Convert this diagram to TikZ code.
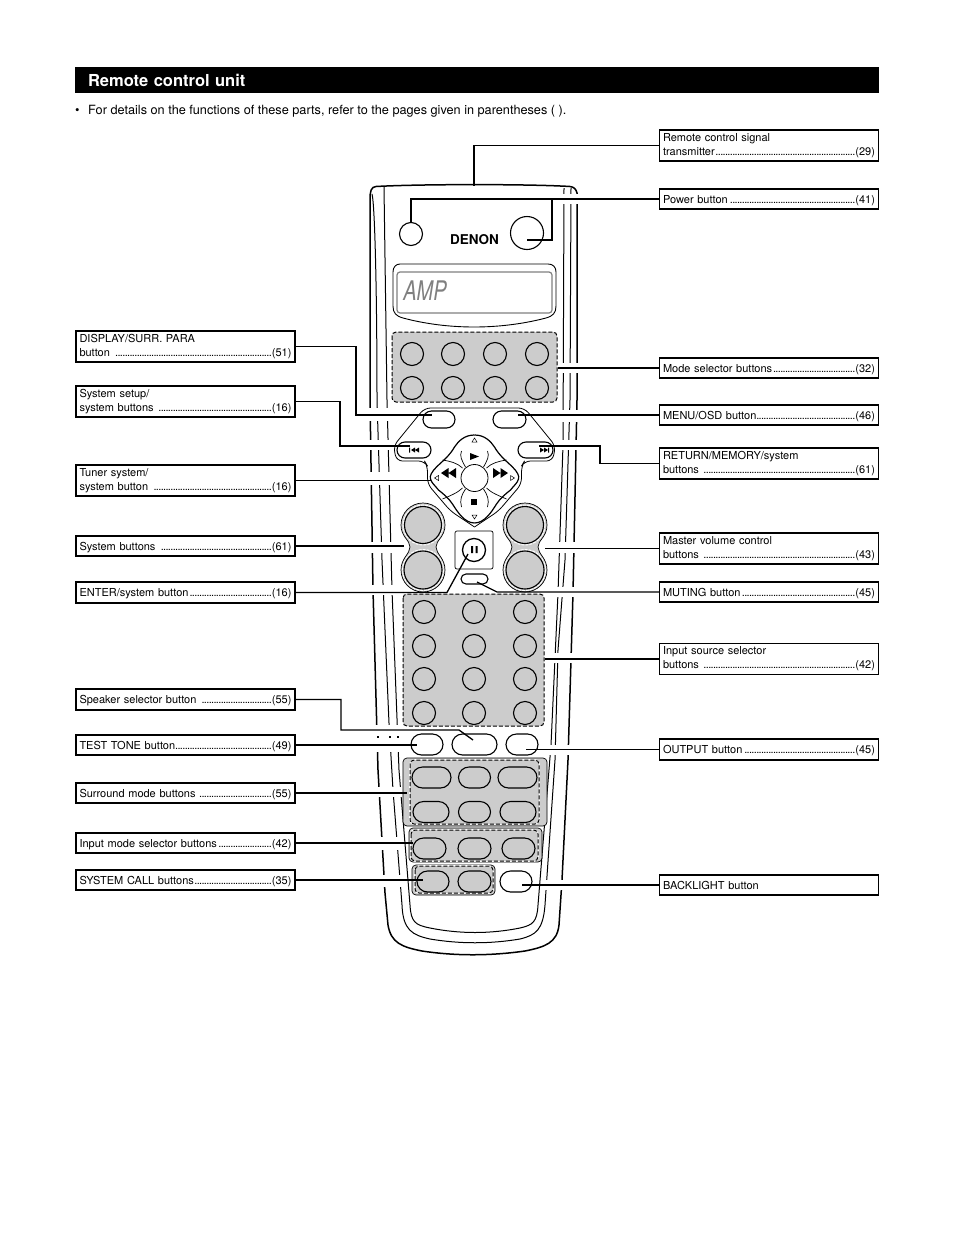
\documentclass[tikz,border=0pt]{standalone}
\usepackage{fontspec}
\setmainfont{TeX Gyre Heros}
\usetikzlibrary{shapes.misc}
\definecolor{panelgray}{gray}{0.8}
\newcommand{\lead}[2]{#1\leaders\hbox to 2.4pt{\hss.\hss}\hskip 0pt plus 1fill(#2)}
\tikzset{
  labbox/.style={draw,line width=1.8,outer sep=0,inner xsep=3.5,inner ysep=0,text width=212,align=left,
    font=\fontsize{11}{14}\selectfont},
  lab1/.style={labbox,minimum height=20.5,text height=8,text depth=0},
  lab2/.style={labbox,minimum height=31},
  link/.style={line width=1.3},
  rail/.style={line width=1},
  panel/.style={fill=panelgray,draw=black,line width=1,dash pattern=on 4pt off 2pt,rounded corners=4,
    preaction={draw=white,solid,line width=1.6}},
  frame/.style={fill=panelgray,draw=black,line width=.7,rounded corners=4},
  btn/.style={circle,draw,line width=1.1,inner sep=0,outer sep=0,minimum size=23},
  pill/.style={rounded rectangle,draw,line width=1.1,inner sep=0,outer sep=0,minimum height=21,minimum width=32},
}
\begin{document}
\begin{tikzpicture}[x=1pt,y=-1pt]
  \useasboundingbox (0,0) rectangle (954,1237);
  \fill[white] (0,0) rectangle (954,1237);

  % heading and note
  \node[fill=black,text=white,font=\bfseries\fontsize{16.5}{18}\selectfont,minimum height=26,inner xsep=13,
    inner ysep=0,text width=778,align=left] (headbar) at (477,80) {Remote control unit};
  \node[anchor=west,inner sep=0,font=\fontsize{12.7}{14}\selectfont] (notetext) at (75,111)
    {\makebox[13pt][l]{•}For details on the functions of these parts, refer to the pages given in parentheses ( ).};

  % body of the remote, outer rails
  \draw[rail,line width=1.5] (370,200) .. controls (370,191) and (371,187) .. (376,186.5)
    .. controls (420,184) and (530,184) .. (570,186.5) .. controls (574,187) and (576,189) .. (577,193)
    -- (577,400) -- (573,593) -- (568,760) -- (562,880) -- (559,925)
    .. controls (557,943) and (545,947) .. (525,951) .. controls (490,956) and (455,956) .. (422,951)
    .. controls (402,947) and (391,943) .. (388,925) -- (385,893) -- (378,770) -- (373,590) -- (370,400) -- cycle;
  \draw[rail] (372,194) .. controls (375,205) and (377,300) .. (377,400) -- (382,560) -- (389,723) -- (393,790) -- (402,905)
    .. controls (403,930) and (412,935) .. (430,939) .. controls (460,944) and (490,944) .. (520,939)
    .. controls (536,935) and (543,930) .. (545,905) -- (555,760) -- (558,650) -- (565,560) -- (570,400) -- (571,188);
  \draw[rail] (384,187) -- (387,400) -- (392,590) -- (399,770) -- (410,905)
    .. controls (411,922) and (415,925) .. (430,928) .. controls (460,934) and (490,934) .. (520,928)
    .. controls (533,925) and (537,922) .. (538,905) -- (551,745) -- (558,593) -- (563,445) -- (564,188);

  % gaps in the rails where the lines cross
  \foreach \ya/\yb in {408/421,440/450,472/485,542/553,585/595,725/752,787/797,837/850,875/887}
    \fill[white] (362,\ya) rectangle (403,\yb);
  \foreach \ya/\yb in {194/204,363/373,410/422,440/450,542/553,587/597,653/663,745/755,880/890}
    \fill[white] (545,\ya) rectangle (585,\yb);
  \foreach \px in {378,390,398}
    \fill (\px-1,736) rectangle (\px+1,738);

  % top part
  \node[btn] (txbtn) at (411,234) {};
  \node[btn,minimum size=33] (powerbtn) at (527,233) {};
  \node[font=\bfseries\fontsize{13.5}{14}\selectfont,inner sep=0] (brand) at (474.5,239.5) {DENON};
  \draw[line width=.9] (400,264) -- (548,264) .. controls (553,264) and (556,267) .. (556,272) -- (556,306)
    .. controls (556,313) and (553,316) .. (546,318) .. controls (500,330) and (448,330) .. (403,318)
    .. controls (396,316) and (393,313) .. (393,306) -- (393,272) .. controls (393,267) and (396,264) .. (400,264) -- cycle;
  \draw[black!50,line width=1.2,rounded corners=3] (397,272) rectangle (552,313);
  \node[text=black!50,font=\itshape\fontsize{27}{28}\selectfont,xscale=.74,inner sep=0] (ampdisp) at (425,291) {AMP};

  % mode selector panel
  \draw[panel] (392,332) rectangle (557,402);
  \foreach \cx [count=\ci] in {412,453,495,537}
    \foreach \cy [count=\cj] in {354,388}
      \node[btn] (mode\ci\cj) at (\cx,\cy) {};

  % cursor area, one half and its mirror image
  \foreach \sx in {1,-1} {
    \begin{scope}[shift={(474.5,0)},xscale=\sx]
      \draw[line width=.8,rounded corners=6] (0,408) -- (50,408) -- (81,446) -- (78,461) -- (50,461) -- (47,466)
        -- (47,484) -- (24,511) -- (0,527);
      \draw[line width=1.2] (0,435) .. controls (10,435) and (16,441) .. (20,447) .. controls (25,456) and (33,462) .. (38,467)
        .. controls (43,472) and (45,476) .. (44,479) .. controls (43,483) and (39,486) .. (36,490)
        .. controls (31,494) and (26,498) .. (22,504) .. controls (17,512) and (10,523) .. (0,523);
      \draw[line width=.7] (13,451) .. controls (15,456) and (13,460) .. (9,467)
        (32,460) .. controls (25,461) and (17,463) .. (12,468)
        (32,499) .. controls (25,496) and (17,493) .. (12,488)
        (13,507) .. controls (15,500) and (13,495) .. (9,489);
      \fill (18.5,468) -- (26,473) -- (18.5,478) -- cycle (26,468) -- (33.5,473) -- (26,478) -- cycle;
      \draw[line width=.5] (36,475.5) -- (40,478) -- (36,480.5) -- cycle;
    \end{scope}
  }
  \node[circle,draw,fill=white,line width=.8,inner sep=0,minimum size=27] (enterbtn) at (474.5,478) {};
  \fill (470,453) -- (479,456.5) -- (470,460) -- cycle;
  \fill (471,499) rectangle (477,505);
  \draw[line width=.5] (472,442) -- (474.5,438) -- (477,442) -- cycle (472,515) -- (474.5,519) -- (477,515) -- cycle;
  \node[pill,fill=white,minimum width=32,minimum height=17] (menubtn) at (439,419.5) {};
  \node[pill,fill=white,minimum width=33,minimum height=17] (returnbtn) at (509.5,419.5) {};
  \node[pill,fill=white,minimum width=34,minimum height=16] (prevbtn) at (414,450) {};
  \node[pill,fill=white,minimum width=35,minimum height=16] (nextbtn) at (535.5,450) {};
  \fill (409,447.5) rectangle (410,452.5) (415,447.5) -- (411,450) -- (415,452.5) -- cycle
    (419,447.5) -- (415,450) -- (419,452.5) -- cycle;
  \fill (540,447.5) -- (544,450) -- (540,452.5) -- cycle (544,447.5) -- (548,450) -- (544,452.5) -- cycle
    (548,447.5) rectangle (549,452.5);

  % volume and system button pairs
  \foreach \cx/\nm in {423/sys,525/vol} {
    \begin{scope}[shift={(\cx,0)}]
      \draw[frame,rounded corners=0] (-22,525) arc (180:360:22)
        .. controls (22,537) and (13,540) .. (13,547) .. controls (13,554) and (22,558) .. (22,570)
        arc (0:180:22) .. controls (-22,558) and (-13,554) .. (-13,547) .. controls (-13,540) and (-22,537) .. cycle;
      \draw[white,line width=1,dash pattern=on 3pt off 1pt] (0,525) circle (20) (0,570) circle (20.5);
      \node[btn,fill=panelgray,minimum size=37] (\nm up) at (0,525) {};
      \node[btn,fill=panelgray,minimum size=38] (\nm down) at (0,570) {};
    \end{scope}
  }

  % pause and muting
  \draw[line width=.7,rounded corners=2] (455,531) rectangle (493,569);
  \node[btn,line width=1.3] (pausebtn) at (474,550) {};
  \fill (471,546) rectangle (473,553) (475.5,546) rectangle (477.5,553);
  \node[pill,minimum width=27,minimum height=10] (mutebtn) at (474.5,579) {};

  % input source panel
  \draw[panel] (403,594) rectangle (544,726);
  \foreach \cx [count=\ci] in {424,474,525}
    \foreach \cy [count=\cj] in {612,646,679,713}
      \node[btn] (input\ci\cj) at (\cx,\cy) {};

  % row below the input panel
  \node[pill] (testbtn) at (427,744.5) {};
  \node[pill,minimum width=45] (speakerbtn) at (474.5,744.5) {};
  \node[pill] (outputbtn) at (522,744.5) {};

  % surround, input mode and system call panels
  \draw[frame] (403,758) rectangle (547,826);
  \draw[panel] (410,760) rectangle (539,824);
  \draw[frame] (409,828) rectangle (542,862);
  \draw[panel] (411,830) rectangle (538,861);
  \draw[frame] (412,865) rectangle (495,895);
  \draw[panel] (415,866) rectangle (493,893);
  \node[pill,fill=panelgray,minimum width=39] (surr1) at (431.5,777.5) {};
  \node[pill,fill=panelgray] (surr2) at (474.5,777.5) {};
  \node[pill,fill=panelgray,minimum width=39] (surr3) at (517.5,777.5) {};
  \node[pill,fill=panelgray,minimum width=36] (surr4) at (431,812) {};
  \node[pill,fill=panelgray] (surr5) at (474.5,812) {};
  \node[pill,fill=panelgray,minimum width=36] (surr6) at (518,812) {};
  \node[pill,fill=panelgray,minimum width=33] (imode1) at (429.5,848.5) {};
  \node[pill,fill=panelgray,minimum width=33] (imode2) at (474.5,848.5) {};
  \node[pill,fill=panelgray,minimum width=33] (imode3) at (518.5,848.5) {};
  \node[pill,fill=panelgray] (call1) at (433,881.5) {};
  \node[pill,fill=panelgray,minimum width=33] (call2) at (474.5,881.5) {};
  \node[pill,fill=white] (lightbtn) at (516,881.5) {};

  % labels on the left
  \node[lab2] (bdisplay) at (185.5,346.5) {DISPLAY/SURR. PARA\\\lead{button }{51}};
  \node[lab2] (bsetup) at (185.5,401.5) {System setup/\\\lead{system buttons }{16}};
  \node[lab2] (btuner) at (185.5,480.5) {Tuner system/\\\lead{system button }{16}};
  \node[lab1] (bsystem) at (185.5,546) {\lead{System buttons }{61}};
  \node[lab1] (benter) at (185.5,592.5) {\lead{ENTER/system button}{16}};
  \node[lab1] (bspeaker) at (185.5,699.5) {\lead{Speaker selector button }{55}};
  \node[lab1] (btest) at (185.5,745) {\lead{TEST TONE button}{49}};
  \node[lab1] (bsurr) at (185.5,793) {\lead{Surround mode buttons }{55}};
  \node[lab1] (bimode) at (185.5,843) {\lead{Input mode selector buttons}{42}};
  \node[lab1] (bcall) at (185.5,880) {\lead{SYSTEM CALL buttons}{35}};

  % labels on the right
  \node[lab2] (bsignal) at (769,145.5) {Remote control signal\\\lead{transmitter}{29}};
  \node[lab1] (bpower) at (769,199) {\lead{Power button}{41}};
  \node[lab1] (bmode) at (769,368) {\lead{Mode selector buttons}{32}};
  \node[lab1] (bmenu) at (769,415) {\lead{MENU/OSD button}{46}};
  \node[lab2] (breturn) at (769,463.5) {RETURN/MEMORY/system\\\lead{buttons }{61}};
  \node[lab2] (bmaster) at (769,548.5) {Master volume control\\\lead{buttons }{43}};
  \node[lab1] (bmute) at (769,592) {\lead{MUTING button}{45}};
  \node[lab2] (bsource) at (769,659) {Input source selector\\\lead{buttons }{42}};
  \node[lab1] (boutput) at (769,749.5) {\lead{OUTPUT button}{45}};
  \node[lab1] (blight) at (769,885) {BACKLIGHT button};

  % free ends of the lines
  \coordinate (ptop) at (474,186);
  \coordinate (ptx) at (411,222.5);
  \coordinate (pbranch) at (552,199);
  \coordinate (ppower) at (527,240);
  \coordinate (pmode) at (558,368);
  \coordinate (pmenu) at (432,415);
  \coordinate (pprev) at (410,446);
  \coordinate (pkey) at (431,480.5);
  \coordinate (psys) at (404,546);
  \coordinate (ppause) at (468,554);
  \coordinate (penter) at (447,592.5);
  \coordinate (pspk) at (473,740);
  \coordinate (pspkb) at (459,730);
  \coordinate (ptest) at (417,745);
  \coordinate (psurr) at (407,793);
  \coordinate (pimode) at (413,843);
  \coordinate (pcall) at (423,880);
  \coordinate (pret) at (518,415);
  \coordinate (pnext) at (539,446);
  \coordinate (pvol) at (545,548.5);
  \coordinate (pmute) at (477,582);
  \coordinate (pmuteb) at (497,592);
  \coordinate (psource) at (545,659);
  \coordinate (poutput) at (526,749.5);
  \coordinate (plight) at (522,885);

  % lines on the left
  \draw[link] (bdisplay.east) -| (356,400) |- (pmenu);
  \draw[link] (bsetup.east) -| (340,430) |- (pprev);
  \draw[link] (btuner.east) -- (pkey);
  \draw[link] (bsystem.east) -- (psys);
  \draw[link] (benter.east) -- (penter) -- (ppause);
  \draw[link] (bspeaker.east) -| (341,720) |- (pspkb) -- (pspk);
  \draw[link] (btest.east) -- (ptest);
  \draw[link] (bsurr.east) -- (psurr);
  \draw[link] (bimode.east) -- (pimode);
  \draw[link] (bcall.east) -- (pcall);

  % lines on the right
  \draw[link] (bsignal.west) -| (ptop);
  \draw[link] (bpower.west) -| (ptx);
  \draw[link] (pbranch) |- (ppower);
  \draw[link] (bmode.west) -- (pmode);
  \draw[link] (bmenu.west) -- (pret);
  \draw[link] (breturn.west) -| (600,455) |- (pnext);
  \draw[link] (bmaster.west) -- (pvol);
  \draw[link] (bmute.west) -- (pmuteb) -- (pmute);
  \draw[link] (bsource.west) -- (psource);
  \draw[link] (boutput.west) -- (poutput);
  \draw[link] (blight.west) -- (plight);
\end{tikzpicture}
\end{document}
